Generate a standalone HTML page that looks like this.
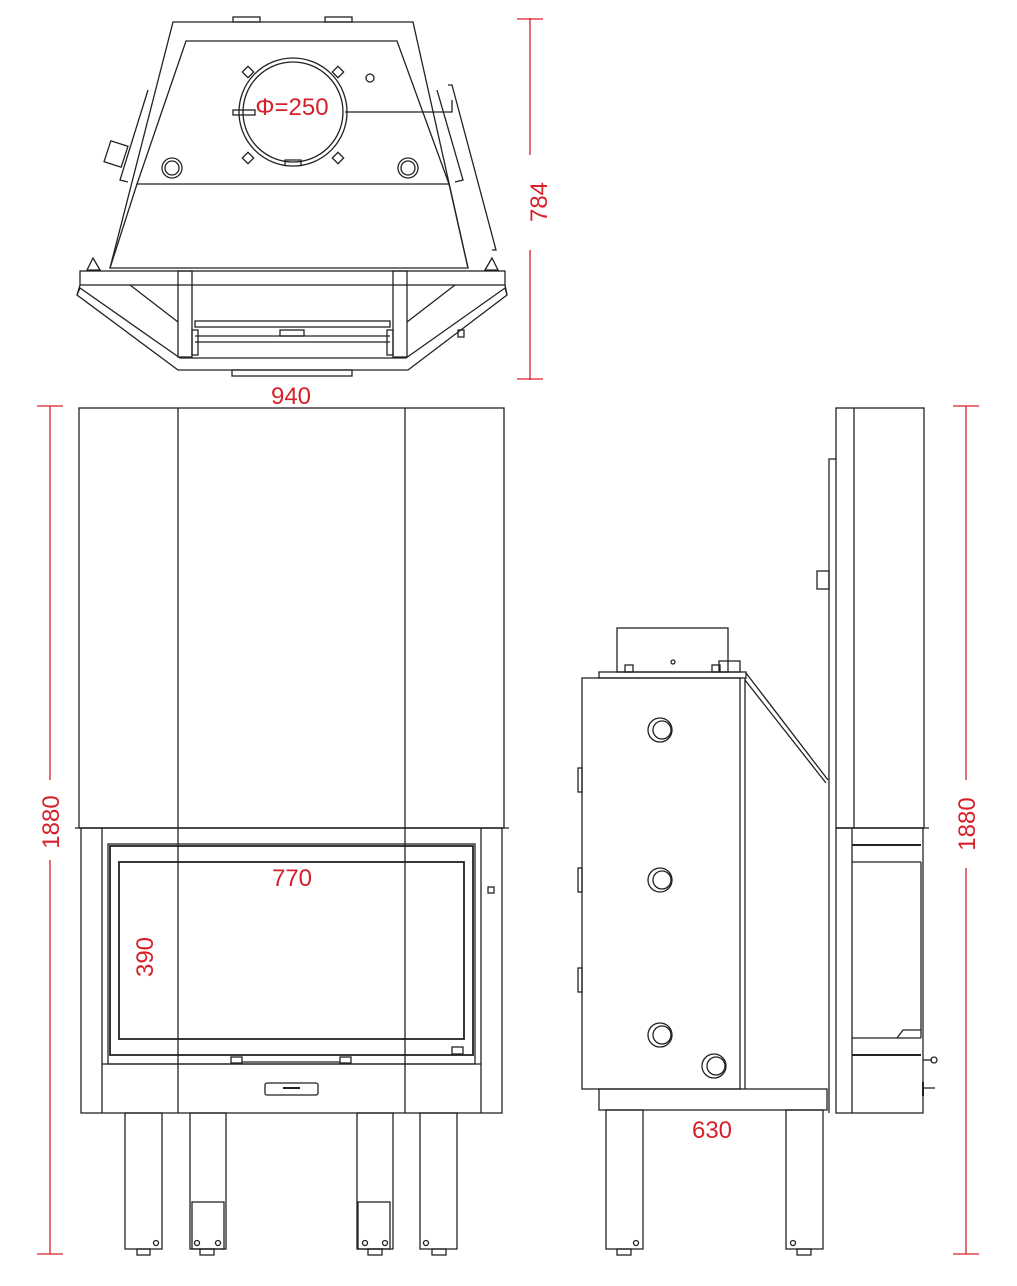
<!DOCTYPE html>
<html><head><meta charset="utf-8"><style>
html,body{margin:0;padding:0;background:#fff;}
svg{display:block;}
text{font-family:"Liberation Sans",Arial,sans-serif;fill:#d6202a;font-size:24px;}
</style></head><body>
<svg width="1017" height="1286" viewBox="0 0 1017 1286" xmlns="http://www.w3.org/2000/svg">
<g fill="none" stroke="#222" stroke-width="1.3">
<!-- TOP VIEW -->
<rect x="233" y="17" width="27" height="5"/><rect x="325" y="17" width="27" height="5"/>
<polygon points="173,22 413,22 468,268 110,268"/>
<polygon points="186,41 397,41 449,184 137,184"/>
<line x1="137" y1="184" x2="110" y2="268"/><line x1="449" y1="184" x2="468" y2="268"/>
<polyline points="148,90 120,180 128,182"/>
<rect x="107" y="143" width="18" height="22" transform="rotate(18 116 154)"/>
<polyline points="437,90 463,180 455,182"/>
<polyline points="448,85 452,85 496,250 492,250"/>
<circle cx="293" cy="112" r="54"/><circle cx="293" cy="112" r="50"/>
<rect x="244" y="68" width="8" height="8" transform="rotate(45 248 72)"/>
<rect x="334" y="68" width="8" height="8" transform="rotate(45 338 72)"/>
<rect x="244" y="154" width="8" height="8" transform="rotate(45 248 158)"/>
<rect x="334" y="154" width="8" height="8" transform="rotate(45 338 158)"/>
<polyline points="285,166 285,160 301,160 301,166"/>
<polyline points="345,112 452,112 452,100"/>
<rect x="233" y="110" width="22" height="5"/>
<circle cx="172" cy="168" r="10"/><circle cx="172" cy="168" r="7"/>
<circle cx="408" cy="168" r="10"/><circle cx="408" cy="168" r="7"/>
<circle cx="370" cy="78" r="4"/>
<rect x="80" y="271" width="425" height="14"/>
<polygon points="87,270 93,258 100,270"/><polygon points="485,270 492,258 498,270"/>
<polygon points="77,295 80,288 180,358 406,358 505,288 507,295 408,370 178,370"/>
<line x1="80" y1="285" x2="77" y2="295"/><line x1="505" y1="285" x2="507" y2="295"/>
<line x1="130" y1="285" x2="178" y2="322"/><line x1="455" y1="285" x2="407" y2="322"/>
<rect x="178" y="271" width="14" height="86"/><rect x="393" y="271" width="14" height="86"/>
<rect x="195" y="321" width="195" height="6"/>
<rect x="280" y="330" width="24" height="6"/>
<line x1="195" y1="336" x2="390" y2="336"/><line x1="195" y1="342" x2="390" y2="342"/>
<rect x="192" y="330" width="6" height="25"/><rect x="387" y="330" width="6" height="25"/>
<rect x="232" y="370" width="120" height="6"/>
<rect x="458" y="330" width="6" height="7"/>

<!-- FRONT VIEW -->
<rect x="79" y="408" width="425" height="420"/>
<line x1="178" y1="408" x2="178" y2="1113"/><line x1="405" y1="408" x2="405" y2="1113"/>
<line x1="75" y1="828" x2="509" y2="828"/>
<rect x="81" y="828" width="421" height="285"/>
<line x1="102" y1="828" x2="102" y2="1113"/><line x1="481" y1="828" x2="481" y2="1113"/>
<rect x="108" y="844" width="367" height="220"/>
<rect x="110" y="846" width="363" height="209" stroke-width="1.8"/>
<rect x="119" y="862" width="345" height="177" stroke-width="1.8"/>
<line x1="102" y1="1064" x2="481" y2="1064"/>
<rect x="231" y="1057" width="11" height="6"/><rect x="340" y="1057" width="11" height="6"/>
<line x1="242" y1="1062" x2="340" y2="1062"/>
<rect x="452" y="1047" width="11" height="7"/>
<rect x="265" y="1083" width="53" height="12" rx="2"/>
<line x1="283" y1="1088" x2="300" y2="1088" stroke-width="2"/>
<rect x="488" y="887" width="6" height="6"/>
<!-- legs -->
<rect x="125" y="1113" width="37" height="136"/>
<rect x="190" y="1113" width="36" height="136"/><rect x="192" y="1202" width="32" height="47"/>
<rect x="357" y="1113" width="36" height="136"/><rect x="358" y="1202" width="32" height="47"/>
<rect x="420" y="1113" width="37" height="136"/>
<circle cx="156" cy="1243" r="2.5"/><circle cx="197" cy="1243" r="2.5"/><circle cx="218" cy="1243" r="2.5"/>
<circle cx="365" cy="1243" r="2.5"/><circle cx="385" cy="1243" r="2.5"/><circle cx="426" cy="1243" r="2.5"/>
<rect x="137" y="1249" width="13" height="6"/><rect x="200" y="1249" width="14" height="6"/>
<rect x="368" y="1249" width="14" height="6"/><rect x="432" y="1249" width="14" height="6"/>

<!-- SIDE VIEW -->
<rect x="617" y="628" width="111" height="44"/>
<rect x="599" y="672" width="147" height="6"/>
<rect x="625" y="665" width="8" height="7"/><rect x="712" y="665" width="8" height="7"/>
<rect x="719" y="661" width="21" height="11"/>
<circle cx="673" cy="662" r="2"/>
<rect x="582" y="678" width="158" height="411"/>
<line x1="745" y1="678" x2="745" y2="1089"/>
<line x1="746" y1="673" x2="828" y2="780"/><line x1="745" y1="680" x2="826" y2="783"/>
<rect x="578" y="768" width="4" height="24"/><rect x="578" y="868" width="4" height="24"/><rect x="578" y="968" width="4" height="24"/>
<circle cx="660" cy="730" r="12"/><circle cx="662" cy="730" r="9"/>
<circle cx="660" cy="880" r="12"/><circle cx="662" cy="880" r="9"/>
<circle cx="660" cy="1035" r="12"/><circle cx="662" cy="1035" r="9"/>
<circle cx="714" cy="1066" r="12"/><circle cx="716" cy="1066" r="9"/>
<rect x="599" y="1089" width="228" height="21"/>
<rect x="606" y="1110" width="37" height="139"/><rect x="786" y="1110" width="37" height="139"/>
<circle cx="636" cy="1243" r="2.5"/><circle cx="793" cy="1243" r="2.5"/>
<rect x="617" y="1249" width="14" height="6"/><rect x="797" y="1249" width="14" height="6"/>
<!-- right slab -->
<polyline points="836,459 829,459 829,1113"/>
<rect x="817" y="571" width="12" height="18"/>
<rect x="836" y="408" width="88" height="420"/>
<line x1="854" y1="408" x2="854" y2="828"/>
<line x1="836" y1="828" x2="929" y2="828"/>
<rect x="836" y="828" width="87" height="285"/>
<line x1="852" y1="828" x2="852" y2="1113"/>
<line x1="852" y1="845" x2="921" y2="845" stroke-width="2"/>
<line x1="852" y1="862" x2="921" y2="862"/>
<line x1="852" y1="1038" x2="921" y2="1038"/>
<line x1="852" y1="1055" x2="921" y2="1055" stroke-width="2"/>
<line x1="921" y1="862" x2="921" y2="1038"/>
<polyline points="897,1038 903,1030 921,1030"/>
<line x1="923" y1="1060" x2="932" y2="1060"/><circle cx="934" cy="1060" r="3"/>
<line x1="923" y1="1088" x2="935" y2="1088"/><line x1="923" y1="1082" x2="923" y2="1096" stroke-width="2"/>
</g>
<!-- DIMENSIONS -->
<g stroke="#d6202a" stroke-width="1.3" fill="none">
<line x1="530" y1="18" x2="530" y2="155"/><line x1="530" y1="250" x2="530" y2="380"/>
<line x1="517" y1="19" x2="543" y2="19"/><line x1="517" y1="379" x2="543" y2="379"/>
<line x1="50" y1="406" x2="50" y2="780"/><line x1="50" y1="860" x2="50" y2="1254"/>
<line x1="37" y1="406" x2="63" y2="406"/><line x1="37" y1="1254" x2="63" y2="1254"/>
<line x1="966" y1="406" x2="966" y2="780"/><line x1="966" y1="868" x2="966" y2="1254"/>
<line x1="953" y1="406" x2="979" y2="406"/><line x1="953" y1="1254" x2="979" y2="1254"/>
</g>
<text x="292" y="115" text-anchor="middle">Φ=250</text>
<text x="291" y="404" text-anchor="middle">940</text>
<text x="292" y="886" text-anchor="middle">770</text>
<text x="712" y="1138" text-anchor="middle">630</text>
<text transform="translate(547 202) rotate(-90)" text-anchor="middle">784</text>
<text transform="translate(153 957) rotate(-90)" text-anchor="middle">390</text>
<text transform="translate(59 822) rotate(-90)" text-anchor="middle">1880</text>
<text transform="translate(975 824) rotate(-90)" text-anchor="middle">1880</text>
</svg>
</body></html>
